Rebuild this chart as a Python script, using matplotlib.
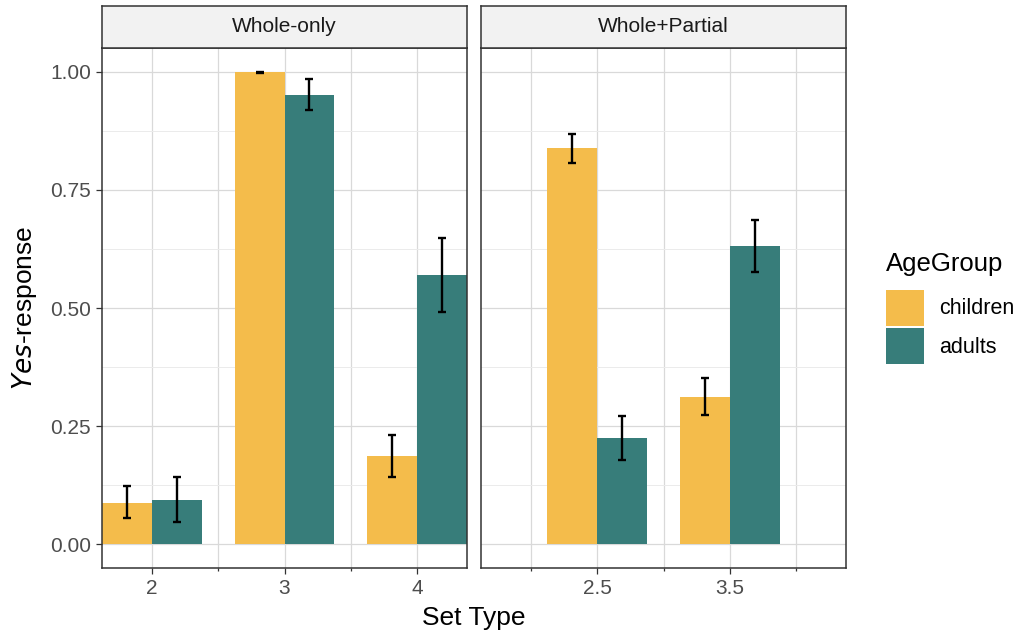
import numpy as np
import matplotlib
matplotlib.use('Agg')
import matplotlib.pyplot as plt
from matplotlib.patches import Patch
from matplotlib.ticker import FixedLocator

plt.rcParams['font.family'] = ['Liberation Sans', 'DejaVu Sans']

# data
panels = ['Whole-only', 'Whole+Partial']
set_types = [[2, 3, 4], [2.5, 3.5]]
groups = ['children', 'adults']
colors = ['#F4BC4B', '#377D7A']

children_mean = [[0.088, 1.000, 0.186], [0.838, 0.312]]
children_lo = [[0.055, 0.998, 0.143], [0.806, 0.274]]
children_hi = [[0.123, 1.000, 0.232], [0.869, 0.352]]
adults_mean = [[0.094, 0.951, 0.570], [0.226, 0.631]]
adults_lo = [[0.048, 0.918, 0.492], [0.179, 0.576]]
adults_hi = [[0.142, 0.985, 0.648], [0.272, 0.686]]

y_ticks = [0.0, 0.25, 0.5, 0.75, 1.0]
major_x = [[2, 3, 4], [2.5, 3.5]]
minor_x = [[2.5, 3.5], [2, 3, 4]]

BAR_W = 0.375
GRID = '#D9D9D9'
EDGE = '#333333'
TICK_FS = 15
TITLE_FS = 19


def draw_panel(ax, k):
    x = np.array(set_types[k], dtype=float)
    series = [(children_mean[k], children_lo[k], children_hi[k]),
              (adults_mean[k], adults_lo[k], adults_hi[k])]
    for i, (m, lo, hi) in enumerate(series):
        xs = x + (i - 0.5) * BAR_W
        m = np.array(m)
        ax.bar(xs, m, width=BAR_W, color=colors[i], zorder=2)
        err = [m - np.array(lo), np.array(hi) - m]
        ax.errorbar(xs, m, yerr=err, fmt='none', ecolor='black',
                    elinewidth=1.7, capsize=2.8, capthick=1.7, zorder=3)

    ax.set_xlim(1.625, 4.375)
    ax.set_ylim(-0.05, 1.05)
    ax.xaxis.set_major_locator(FixedLocator(major_x[k]))
    ax.xaxis.set_minor_locator(FixedLocator(minor_x[k]))
    ax.set_xticklabels([f'{v:g}' for v in major_x[k]])
    ax.set_yticks(y_ticks)
    ax.yaxis.set_minor_locator(FixedLocator([0.125, 0.375, 0.625, 0.875]))
    ax.grid(True, which='major', color=GRID, linewidth=0.9, zorder=0)
    ax.grid(True, which='minor', axis='x', color=GRID, linewidth=0.9, zorder=0)
    ax.grid(True, which='minor', axis='y', color='#EBEBEB', linewidth=0.7)
    ax.set_axisbelow(True)
    for s in ax.spines.values():
        s.set_color(EDGE)
        s.set_linewidth(1.1)
    ax.tick_params(axis='both', which='major', length=4, width=0.9,
                   color=EDGE, labelsize=TICK_FS, labelcolor='#4D4D4D', pad=4)
    ax.tick_params(axis='x', which='minor', length=2.5, width=0.9, color=EDGE)
    ax.tick_params(axis='y', which='minor', length=0)


fig = plt.figure(figsize=(10.17, 6.34), dpi=100)
W, H = 1017, 634
lefts = [102, 481]
pw = 365
p_top, p_bot = 48, 568
s_top = 6

axes = []
for k in range(2):
    ax = fig.add_axes([lefts[k] / W, 1 - p_bot / H, pw / W, (p_bot - p_top) / H])
    draw_panel(ax, k)
    axes.append(ax)
    sax = fig.add_axes([lefts[k] / W, 1 - p_top / H, pw / W, (p_top - s_top) / H])
    sax.set_facecolor('#F2F2F2')
    sax.set_xticks([])
    sax.set_yticks([])
    for s in sax.spines.values():
        s.set_color(EDGE)
        s.set_linewidth(1.1)
    sax.text(0.5, 0.5, panels[k], ha='center', va='center', fontsize=TICK_FS,
             color='#1A1A1A', transform=sax.transAxes)

axes[1].tick_params(axis='y', which='both', left=False, labelleft=False)

axes[0].set_ylabel(r'$\it{Yes}$-response', fontsize=TITLE_FS, labelpad=8)
fig.text((102 + 846) / 2 / W, 1 - 618 / H, 'Set Type', ha='center',
         va='center', fontsize=TITLE_FS)

handles = [Patch(facecolor=c, edgecolor='none') for c in colors]
leg = fig.legend(handles, groups, title='AgeGroup', loc='center left',
                 bbox_to_anchor=(886 / W, 1 - 308 / H), frameon=False,
                 fontsize=15.5, title_fontsize=18.5, handlelength=1.75,
                 handleheight=2.2, handletextpad=0.7, labelspacing=0.12,
                 borderpad=0, borderaxespad=0)
leg._legend_box.align = 'left'
leg._legend_box.sep = 10

fig.savefig('out.png', dpi=100)
